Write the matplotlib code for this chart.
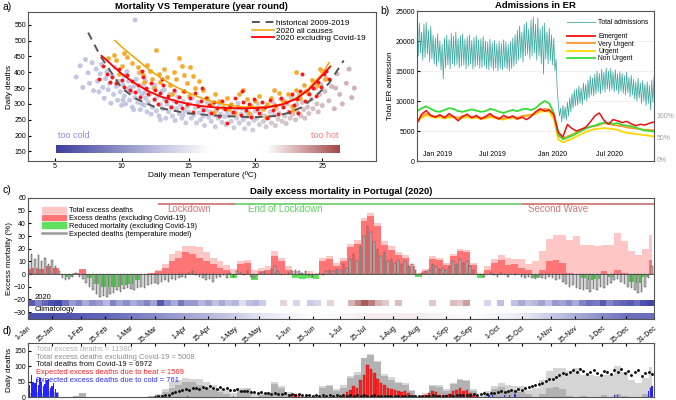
import matplotlib.pyplot as plt
import matplotlib.transforms as mtransforms
import numpy as np
import pandas as pd
from matplotlib.colors import LinearSegmentedColormap
from matplotlib.lines import Line2D
from matplotlib.patches import Patch

plt.rcParams['font.family'] = ['Liberation Sans', 'DejaVu Sans']
plt.rcParams['xtick.direction'] = 'in'
plt.rcParams['ytick.direction'] = 'in'
plt.rcParams['axes.edgecolor'] = '#555555'
plt.rcParams['axes.linewidth'] = 0.8
plt.rcParams['xtick.major.size'] = 2.2
plt.rcParams['ytick.major.size'] = 2.2
plt.rcParams['xtick.labelsize'] = 5
plt.rcParams['ytick.labelsize'] = 5

# ---------------- panel a: mortality vs temperature ----------------
hist_pts = [
    (6.6, 385), (6.9, 420), (7.1, 352), (7.3, 440), (7.5, 398), (7.6, 365), (7.8, 430), (7.9, 342),
    (8.1, 410), (8.2, 372), (8.3, 338), (8.4, 395), (8.5, 425), (8.6, 352), (8.7, 318), (8.8, 380),
    (8.9, 402), (9.0, 345), (9.1, 365), (9.2, 302), (9.3, 388), (9.4, 330), (9.5, 415), (9.6, 355),
    (9.7, 312), (9.8, 372), (9.9, 338), (10.0, 296),
    (10.1, 360), (10.2, 325), (10.2, 388), (10.3, 300), (10.4, 345), (10.5, 372), (10.6, 312),
    (10.7, 338), (10.8, 290), (10.9, 355), (11.0, 320), (11.0, 565), (11.1, 378), (11.2, 305),
    (11.3, 342), (11.4, 282), (11.5, 330), (11.6, 360), (11.7, 296), (11.8, 318), (11.9, 345),
    (11.9, 275), (10.4, 402), (10.9, 282), (11.3, 398), (11.7, 335), (10.6, 352), (11.5, 300),
    (10.1, 312), (11.8, 372),
    (12.0, 305), (12.1, 330), (12.2, 268), (12.3, 290), (12.4, 350), (12.5, 312), (12.6, 278),
    (12.7, 325), (12.8, 262), (12.9, 298), (13.0, 340), (13.1, 285), (13.2, 315), (13.3, 255),
    (13.4, 300), (13.5, 275), (13.6, 330), (13.7, 290), (13.8, 262), (13.9, 310), (14.0, 248),
    (14.1, 285), (14.2, 322), (14.3, 270), (14.4, 295), (14.5, 255), (14.6, 308), (14.7, 278),
    (14.8, 240), (14.9, 292), (12.5, 360), (13.2, 345), (14.0, 338), (12.9, 250), (14.6, 265),
    (15.0, 275), (15.1, 300), (15.2, 255), (15.3, 318), (15.4, 265), (15.5, 288), (15.6, 240),
    (15.7, 305), (15.8, 272), (15.9, 250), (16.0, 290), (16.1, 262), (16.2, 232), (16.3, 282),
    (16.4, 305), (16.5, 258), (16.6, 275), (16.7, 245), (16.8, 295), (16.9, 265), (17.0, 228),
    (17.1, 280), (17.2, 255), (17.3, 300), (17.4, 268), (17.5, 242), (17.6, 285), (17.7, 260),
    (17.8, 235), (17.9, 275),
    (18.0, 262), (18.1, 292), (18.2, 245), (18.3, 270), (18.4, 225), (18.5, 280), (18.6, 255),
    (18.7, 302), (18.8, 240), (18.9, 268), (19.0, 285), (19.1, 250), (19.2, 222), (19.3, 275),
    (19.4, 260), (19.5, 238), (19.6, 290), (19.7, 265), (19.8, 218), (19.9, 248), (20.0, 278),
    (20.1, 255), (20.2, 300), (20.3, 235), (20.4, 268), (20.5, 285), (20.6, 245), (20.7, 262),
    (20.8, 228), (20.9, 295),
    (21.0, 258), (21.1, 275), (21.2, 240), (21.3, 305), (21.4, 265), (21.5, 232), (21.6, 285),
    (21.7, 252), (21.8, 270), (21.9, 315), (22.0, 245), (22.1, 290), (22.2, 262), (22.3, 238),
    (22.4, 300), (22.5, 275), (22.6, 255), (22.7, 320), (22.8, 268), (22.9, 285),
    (23.0, 250), (23.1, 298), (23.2, 272), (23.3, 330), (23.4, 262), (23.5, 305), (23.6, 282),
    (23.7, 255), (23.8, 340), (23.9, 290), (24.0, 270), (24.2, 315), (24.3, 285), (24.5, 350),
    (24.6, 300), (24.7, 275), (24.8, 330), (24.9, 360),
    (25.0, 295), (25.2, 340), (25.3, 380), (25.5, 310), (25.7, 355), (25.9, 285), (26.1, 395),
    (26.3, 330), (26.5, 300), (26.8, 365), (27.0, 410), (27.2, 320), (27.4, 350), (26.0, 350),
]
all_pts = [
    (9.0, 445), (9.4, 455), (9.6, 440), (10.2, 460), (10.4, 448), (10.8, 430), (10.0, 420), (9.8, 395),
    (11.2, 415), (11.4, 400), (11.6, 390), (11.9, 422), (12.1, 405), (12.3, 380), (12.6, 470),
    (12.8, 395), (12.9, 370), (12.4, 350), (11.7, 370),
    (13.2, 410), (13.4, 385), (13.6, 360), (13.9, 400), (14.1, 380), (14.3, 445), (14.5, 420),
    (14.7, 392), (14.9, 365), (15.1, 415), (15.3, 388), (15.5, 350), (15.8, 372), (13.8, 330),
    (14.6, 340), (15.0, 325),
    (16.1, 345), (16.4, 320), (16.7, 300), (17.0, 330), (17.3, 310), (17.6, 290), (17.9, 318),
    (18.2, 300), (18.5, 270), (18.8, 330), (16.9, 275), (18.0, 285),
    (19.1, 345), (19.4, 315), (19.7, 295), (20.0, 310), (20.3, 325), (20.6, 285), (20.9, 300),
    (21.2, 320), (21.5, 295), (21.8, 335), (19.5, 270), (20.8, 260), (21.4, 345),
    (22.1, 310), (22.4, 330), (22.7, 295), (23.0, 345), (23.3, 320), (23.6, 360), (23.9, 335),
    (24.2, 375), (24.6, 360), (25.0, 405), (25.2, 380), (23.0, 400), (24.8, 410), (22.8, 280),
]
excl_pts = [
    (8.3, 378), (8.6, 420), (8.9, 395), (9.1, 370), (9.3, 385), (9.6, 365), (9.8, 410), (10.0, 375),
    (10.2, 355), (10.4, 390), (10.6, 345), (10.8, 372), (11.0, 338), (11.2, 360), (11.4, 322),
    (11.6, 385), (11.8, 350), (12.0, 330), (12.2, 365), (12.4, 315), (12.5, 345), (12.7, 300),
    (12.9, 335), (13.1, 360), (13.3, 310), (13.5, 325), (13.7, 290), (13.9, 345), (14.1, 305),
    (14.3, 322), (14.5, 288), (14.7, 340), (14.9, 300), (15.1, 318), (15.3, 275), (15.5, 335),
    (15.7, 295), (15.9, 310), (16.1, 280), (16.3, 320), (16.5, 298), (16.7, 270), (16.9, 305),
    (17.1, 288), (17.3, 262), (17.5, 310), (17.7, 285), (17.9, 240), (18.1, 295), (18.3, 275),
    (18.5, 320), (18.7, 290), (18.9, 265), (19.1, 305), (19.3, 280), (19.5, 300), (19.7, 258),
    (19.9, 315), (20.1, 285), (20.3, 270), (20.5, 305), (20.7, 290), (20.9, 255), (21.1, 312),
    (21.3, 280), (21.5, 298), (21.7, 268), (21.9, 320), (22.1, 290), (22.3, 305), (22.5, 275),
    (22.7, 330), (22.9, 298), (23.1, 315), (23.3, 340), (23.5, 395), (23.7, 310), (24.0, 330),
    (24.3, 350), (24.5, 325), (24.7, 370), (24.9, 355), (25.1, 395), (25.3, 405), (25.5, 380),
    (23.2, 270), (19.0, 340), (16.0, 350), (13.0, 380), (11.5, 405),
]
hist_fit_t = [7.5, 8.4, 10, 11, 12.5, 15, 17.5, 20, 21.5, 22.5, 23.5, 24.5, 25.5, 26.6]
hist_fit_d = [525, 452, 350, 318, 290, 270, 262, 258, 262, 272, 290, 325, 365, 437]
all_fit_t = [9.5, 10, 11, 12, 13, 14, 15, 16, 17, 18, 19, 20, 21, 22, 23, 24, 25, 25.5]
all_fit_d = [500, 480, 445, 410, 380, 355, 335, 318, 305, 296, 291, 290, 292, 300, 318, 350, 395, 430]
excl_fit_t = [8.5, 10, 11, 12, 13, 14, 15, 16, 17, 18, 19, 20, 21, 22, 23, 24, 25, 25.6]
excl_fit_d = [452, 395, 365, 340, 322, 310, 300, 293, 289, 287, 286, 287, 290, 298, 315, 345, 390, 418]

# ---------------- panel b: ER admissions (weekly high / low) ----------------
er_high = [22000, 23000, 21500, 22800, 23100, 21800, 22500, 21000, 20500, 21200,
           20000, 19500, 20500, 21000, 20200, 21300, 20800, 21500, 20400, 20900,
           21200, 20300, 20700, 21000, 20100, 20600, 20900, 20200, 20400, 20800,
           20000, 19800, 20300, 19700, 20100, 19500, 19900, 19600, 20200, 19800,
           19400, 19900, 20500, 21000, 21800, 22500, 21500, 22800, 23200, 22000,
           23500, 24000, 22800, 23800, 22000, 22500, 23000, 21500, 22200, 21000,
           20500, 17000, 9500, 8800, 9300, 9000, 9800, 10500, 11200, 11800,
           12000, 12500, 12200, 13000, 12800, 13500, 14200, 13800, 14500, 15000,
           14600, 15300, 14800, 15500, 15000, 15400, 14800, 15200, 14500, 14900,
           14600, 14200, 14800, 13900, 14300, 13600, 13200, 13800, 13000, 13400,
           12800, 13200, 12600, 13500, 14000]
er_low = [17500, 18000, 16800, 17200, 17800, 16500, 17000, 16200, 15800, 16500,
          15200, 13700, 15500, 16000, 15400, 16200, 15800, 16100, 15500, 15900,
          16000, 15400, 15800, 16200, 15300, 15700, 16000, 15500, 15600, 15900,
          15400, 15200, 15600, 15100, 15500, 15000, 15400, 15200, 15600, 15300,
          15000, 15400, 15800, 16200, 16800, 17200, 16500, 17500, 17800, 17000,
          17500, 18000, 16800, 17500, 16200, 14500, 17000, 16200, 16800, 16000,
          15000, 12000, 7500, 6500, 7000, 6800, 7500, 8200, 8800, 9200,
          9300, 9600, 9400, 10200, 10000, 10500, 11000, 10800, 11200, 11500,
          11200, 11800, 11500, 12000, 11600, 11900, 11500, 11800, 11200, 11600,
          11300, 11000, 11400, 10700, 11000, 10300, 10000, 10500, 9600, 10000,
          9200, 9600, 8500, 9800, 10500]
emergent = [6300, 7800, 8400, 7600, 7300, 7700, 7200, 7900, 7400, 6700,
            7400, 7800, 7200, 7600, 7000, 7400, 7900, 7300, 7000, 7600,
            7200, 7500, 7000, 7300, 6900, 7400, 8200, 8700, 8300, 8500,
            7800, 4800, 4000, 6100, 5400, 5000, 5300, 5600, 6500, 7500,
            8000, 6800, 6100, 6900, 6700, 6400, 6600, 6200, 5900, 6100,
            6000, 6300, 6500]
very_urgent = [6700, 7500, 7900, 7600, 7400, 7600, 7300, 7500, 7400, 7200,
               7500, 7600, 7300, 7400, 7200, 7300, 7500, 7400, 7200, 7100,
               7300, 7400, 7200, 7500, 7600, 7700, 8000, 8500, 8700, 8600,
               7500, 4200, 3800, 4100, 4400, 4800, 5200, 5500, 5700, 5800,
               6000, 6300, 6200, 6000, 5900, 5800, 5600, 5500, 5400, 5300,
               5200, 5200, 5100]
urgent = [6500, 7200, 7600, 7400, 7200, 7300, 7100, 7200, 7300, 7100,
          7200, 7300, 7100, 7200, 7000, 7100, 7300, 7200, 7000, 6900,
          7100, 7200, 7000, 7300, 7500, 7600, 7800, 8200, 8300, 8200,
          7000, 3600, 3100, 3400, 3700, 4100, 4500, 4800, 5100, 5300,
          5400, 5500, 5400, 5300, 5200, 4900, 4700, 4600, 4500, 4400,
          4300, 4200, 4100]
non_urgent = [8300, 8800, 9100, 8700, 8300, 8200, 8500, 8800, 8700, 8300,
              8200, 8400, 8600, 8400, 8200, 8300, 8700, 8500, 8200, 8000,
              8300, 8500, 8300, 8600, 8700, 8500, 8800, 9500, 10000, 9600,
              8000, 4500, 3600, 3900, 4200, 4600, 5000, 5400, 5700, 5900,
              6200, 6400, 6300, 6200, 6300, 6000, 5900, 5800, 5600, 5300,
              5100, 5000, 4900]
b_tick_labels = ['Jan 2019', 'Jul 2019', 'Jan 2020', 'Jul 2020']

# ---------------- panel c: excess mortality (%) every 4 days ----------------
excess_excl = [4, 5, 4, 6, 5, -1, -2, 1, 4, -3,
               -8, -10, -10, -10, -9, -8, -5, 0, 1, 2,
               5, 10, 13, 17, 16, 13, 10, 8, 5, 3,
               -3, 8, 9, -5, 2, 3, 14, 10, 3, -3,
               -4, -3, -4, 10, 12, 6, 10, 21, 24, 42,
               46, 38, 23, 19, 15, 13, 6, -2, 2, 12,
               11, 7, 14, 18, 17, 7, -3, 3, 9, 11,
               7, 8, 5, 3, -3, 3, 10, 11, 9, 1,
               0, -3, -5, -4, 2, -2, 3, 1, -6, -7,
               -2, 11]
excess_total = [4, 5, 4, 6, 5, 0, 0, 1, 4, 0,
                0, 0, 0, 0, 0, 0, 0, 0, 1, 3,
                8, 16, 18, 22, 22, 21, 17, 13, 10, 7,
                4, 10, 11, 3, 5, 6, 18, 13, 6, 2,
                1, 2, 1, 13, 14, 9, 13, 24, 27, 44,
                48, 40, 26, 22, 17, 15, 8, 1, 4, 14,
                13, 9, 16, 20, 19, 9, 1, 6, 12, 15,
                13, 12, 12, 8, 10, 18, 28, 31, 31, 27,
                30, 23, 23, 22, 23, 23, 32, 26, 18, 15,
                20, 31]
# temperature model, every 2 days
model_pct = [8, 16, 12, 15, 10, 13, 8, 11, 6, 2, -3, -5, -4, -2, 1, -2,
             -4, -7, -10, -13, -16, -18, -17, -18, -16, -15, -13, -14, -12, -11,
             -12, -13, -11, -10, -11, -9, -8, -7, -8, -6, -5, -6, -4, -5, -3, -2,
             -3, 1, 2, -1, -2, -3, -5, -4, -6, -3, -2, -1, -3, 1, -2,
             2, 1, -1, 2, -2, -3, -1, 1, 2, 0, 4, 6, 2, -1, 0,
             1, 2, 3, 2, 1, 2, -1, -2, 0, 1, -1, 2, 3, 2, 4,
             3, 8, 5, 12, 16, 10, 22, 30, 38, 33, 25, 20, 14, 17, 10, 12,
             9, 11, 8, 10, 6, 8, 3, 0, 1, 2, 3, 8, 6, 4, 5,
             3, 6, 10, 8, 12, 9, 10, 6, 3, 0, -1, -2, 0, 1, -1,
             -2, 1, -1, -2, 0, -1, 0, -2, -3, -2, -3, -4, -2, -3, -4, -2,
             -3, -5, -4, -6, -8, -10, -9, -11, -12, -13, -12, -14, -12, -13, -10,
             -11, -9, -7, -5, -4, -6, -8, -10, -11, -13, -15, -14, -10, -3, 6]
# temperature anomaly colour (-1 cold ... +1 hot), every 4 days
temp_2020 = [-0.8, -0.6, -0.75, -0.85, -0.9, -0.7, -0.5, -0.6, -0.4, -0.55,
             -0.5, -0.35, -0.6, -0.45, -0.55, -0.4, -0.5, -0.6, -0.45, -0.8,
             -0.55, -0.4, -0.65, -0.5, -0.5, -0.35, -0.45, -0.3, -0.4, -0.3,
             -0.35, -0.15, -0.3, -0.35, -0.25, 0, 0, 0.2, 0, -0.2,
             0, -0.25, -0.2, 0, 0.2, 0, 0, 0.35, 0.55, 0.75,
             0.6, 0.35, 0.25, 0, 0.3, 0, 0, 0, 0, 0.25,
             0, 0, 0.3, 0.25, 0.45, 0, 0, -0.2, 0, -0.3,
             0, -0.3, -0.4, -0.3, -0.35, -0.45, -0.3, -0.5, -0.45, -0.55,
             -0.4, -0.6, -0.7, -0.65, -0.8, -0.6, -0.7, -0.75, -0.8, -0.7,
             -0.85, -0.9]
temp_clim = [-0.85, -0.75, -0.55, -0.35, -0.12, 0.0, 0.08, 0.08, 0.0, -0.1, -0.4, -0.7]

# ---------------- panel d: daily deaths ----------------
deaths_total = [12, 15, 12, 18, 15, 0, 0, 3, 12, 0,
                0, 0, 0, 0, 0, 0, 0, 0, 3, 9,
                25, 48, 55, 62, 60, 58, 48, 38, 30, 22,
                12, 28, 30, 9, 14, 16, 50, 36, 17, 5,
                3, 5, 3, 36, 40, 25, 38, 70, 80, 128,
                140, 118, 76, 64, 50, 44, 24, 3, 12, 40,
                38, 26, 47, 58, 55, 26, 3, 18, 36, 45,
                39, 36, 36, 24, 30, 55, 85, 95, 95, 84,
                93, 72, 72, 70, 72, 72, 100, 82, 57, 47,
                63, 98]
deaths_excl = [12, 15, 12, 18, 15, 0, 0, 3, 12, 0,
               0, 0, 0, 0, 0, 0, 0, 0, 3, 6,
               15, 30, 39, 50, 48, 39, 30, 24, 15, 9,
               0, 24, 27, 0, 6, 9, 42, 30, 9, 0,
               0, 0, 0, 30, 36, 18, 30, 63, 72, 126,
               138, 114, 69, 57, 45, 39, 18, 0, 6, 36,
               33, 21, 42, 54, 51, 21, 0, 9, 27, 33,
               21, 24, 15, 9, 0, 9, 30, 33, 27, 3,
               0, 3, 0, 0, 6, 0, 9, 3, 0, 0,
               9, 33]
covid_deaths = [1, 2, 3, 6, 8, 12, 16, 20, 22, 26, 24, 28, 30, 27,
                32, 29, 35, 30, 27, 31, 26, 28, 24, 22, 25, 20, 21, 18, 16,
                17, 14, 15, 12, 13, 11, 14, 10, 9, 12, 8, 9, 7, 10, 6,
                5, 7, 4, 6, 3, 5, 4, 6, 3, 5, 4, 7, 3, 5, 4,
                6, 3, 5, 4, 2, 5, 3, 4, 2, 3, 4, 2, 3, 2, 4,
                2, 3, 2, 4, 3, 2, 3, 5, 3, 4, 2, 3, 5, 4, 6,
                5, 7, 6, 8, 9, 7, 10, 12, 11, 14, 13, 16, 18, 17, 20,
                22, 19, 25, 24, 28, 31, 35, 38, 42, 47, 52, 58, 60, 65, 72,
                78, 74, 82, 88, 80, 91, 85, 76, 83, 89, 79, 72, 86, 81, 75,
                88, 82, 90, 77, 85, 73, 80, 87, 70, 78, 82, 74]
heat_days = [154, 156, 158] + list(range(184, 263, 2))
heat_deaths = [6, 10, 5,
               8, 15, 22, 35, 28, 55, 72, 104, 90, 78,
               60, 45, 38, 30, 25, 22, 18, 15, 20, 14,
               8, 3, 0, 2, 5, 12, 20, 15, 8, 5,
               6, 10, 18, 22, 28, 20, 24, 12, 5, 2]
cold_days = [0, 1, 2, 3, 4, 5, 6, 7, 8, 9, 10, 11, 12, 13, 14, 15, 16, 17,
             93, 120, 162, 166, 269, 271, 278, 281, 284, 342, 344, 362, 363, 364]
cold_deaths = [55, 40, 72, 48, 45, 60, 38, 62, 50, 35, 42, 55, 58, 30, 35, 45, 25, 12,
               4, 3, 3, 4, 5, 6, 8, 7, 9, 8, 6, 18, 28, 36]
d_notes = ['Total excess deaths = 11980',
           'Total excess deaths excluding Covid-19 = 5008',
           'Total deaths from Covid-19 = 6972',
           'Expected excess deaths due to heat = 1569',
           'Expected excess deaths due to cold = 761']
d_note_colors = ['#b0b0b0', '#8a8a8a', '#111111', '#ff2020', '#2b2bff']

fig = plt.figure(figsize=(6.76, 4.0), dpi=100)

# ================= a =================
ax_a = fig.add_axes([0.0414, 0.5975, 0.5145, 0.3725])
hx = np.array([p[0] for p in hist_pts]); hy = np.array([p[1] for p in hist_pts])
cloud_cmap = LinearSegmentedColormap.from_list(
    'cloud', [(0, '#b9bcdd'), (0.6, '#c2c3db'), (0.72, '#d0bec6'), (1, '#c9a2a2')])
ax_a.scatter(hx, hy, c=hx, cmap=cloud_cmap, vmin=6, vmax=28, s=13, alpha=0.85,
             linewidths=0, zorder=2)
ax_a.scatter([p[0] for p in all_pts], [p[1] for p in all_pts], s=11, color='#f6a928',
             edgecolors='#f8c66e', linewidths=0.3, zorder=3)
ax_a.scatter([p[0] for p in excl_pts], [p[1] for p in excl_pts], s=8, color='#ff1414',
             linewidths=0, zorder=4)
ax_a.plot(hist_fit_t, hist_fit_d, color='#555555', lw=1.4, dashes=(4, 3), zorder=5)
ax_a.plot(all_fit_t, all_fit_d, color='#f0a400', lw=1.1, zorder=6)
ax_a.plot(excl_fit_t, excl_fit_d, color='#ff0000', lw=1.3, zorder=6)

grad = np.linspace(0, 1, 256).reshape(1, -1)
ax_a.imshow(grad, extent=(5.1, 16.5, 144, 169), aspect='auto', zorder=1,
            cmap=LinearSegmentedColormap.from_list('cold', ['#3c3f9e', '#ffffff']))
ax_a.imshow(grad, extent=(20.8, 26.3, 144, 169), aspect='auto', zorder=1,
            cmap=LinearSegmentedColormap.from_list('hot', ['#ffffff', '#a24848']))
ax_a.text(6.4, 200, 'too cold', color='#8a8ae8', fontsize=6.5, ha='center', va='center')
ax_a.text(25.2, 200, 'too hot', color='#ff7a7a', fontsize=6.5, ha='center', va='center')
ax_a.set_xlim(3, 29)
ax_a.set_ylim(120, 590)
ax_a.set_xticks([5, 10, 15, 20, 25])
ax_a.set_yticks(range(150, 551, 50))
ax_a.set_xlabel('Daily mean Temperature (ºC)', fontsize=6, labelpad=1)
ax_a.set_ylabel('Daily deaths', fontsize=5.8, labelpad=1)
ax_a.tick_params(pad=1.5)
ax_a.set_title('Mortality VS Temperature (year round)', fontsize=6.8, fontweight='bold', pad=2)
ax_a.legend(handles=[Line2D([], [], color='#555555', lw=1.4, dashes=(4, 3)),
                     Line2D([], [], color='#f0a400', lw=1.1),
                     Line2D([], [], color='#ff0000', lw=1.3)],
            labels=['historical 2009-2019', '2020 all causes', '2020 excluding Covid-19'],
            loc='upper right', bbox_to_anchor=(0.985, 0.985), frameon=False, fontsize=5.9,
            handlelength=2.6, labelspacing=0.0, handletextpad=0.3, borderaxespad=0.2)

# ================= b =================
ax_b = fig.add_axes([0.617, 0.5975, 0.3505, 0.375])
wk = np.arange(len(er_high))
xt = np.empty(2 * len(wk)); xt[0::2] = wk; xt[1::2] = wk + 0.5
yt = np.empty(2 * len(wk)); yt[0::2] = er_high; yt[1::2] = er_low
ax_b.plot(xt, yt, color='#3fa9a1', lw=0.55)
wk2 = np.arange(0, 105, 2)
ax_b.plot(wk2, urgent, color='#ffd800', lw=1.3)
ax_b.plot(wk2, very_urgent, color='#ff9a30', lw=1.3)
ax_b.plot(wk2, non_urgent, color='#35dd35', lw=1.3)
ax_b.plot(wk2, emergent, color='#ee1111', lw=1.1)
ax_b.set_xlim(0, 104)
ax_b.set_ylim(0, 25000)
ax_b.set_yticks(range(0, 25001, 5000))
ax_b.grid(axis='y', color='#eeeeee', lw=0.6)
ax_b.set_axisbelow(True)
ax_b.set_xticks([9, 33, 59.4, 84.5])
ax_b.set_xticklabels(b_tick_labels)
ax_b.tick_params(axis='x', length=0, pad=-7)
ax_b.tick_params(axis='y', pad=1.5)
ax_b.set_ylabel('Total ER admission', fontsize=5.8, labelpad=1)
ax_b.set_title('Admissions in ER', fontsize=6.8, fontweight='bold', pad=2)
tr_b = mtransforms.blended_transform_factory(ax_b.transAxes, ax_b.transData)
for lab, val in zip(['100%', '50%', '0%'], [7500, 3750, 0]):
    ax_b.text(1.012, val, lab, transform=tr_b, color='#a0a0a0', fontsize=5, va='center')
leg1 = ax_b.legend(handles=[Line2D([], [], color='#3fa9a1', lw=0.6)], labels=['Total admissions'],
                   loc='upper left', bbox_to_anchor=(0.62, 0.965), frameon=False, fontsize=4.9,
                   handlelength=4.2, handletextpad=0.4, borderaxespad=0)
ax_b.add_artist(leg1)
ax_b.legend(handles=[Line2D([], [], color=c, lw=1.3) for c in ['#ee1111', '#ff9a30', '#ffd800', '#35dd35']],
            labels=['Emergent', 'Very Urgent', 'Urgent', 'Non Urgent'],
            loc='upper left', bbox_to_anchor=(0.62, 0.87), frameon=False, fontsize=4.9,
            handlelength=4.2, handletextpad=0.4, labelspacing=0.05, borderaxespad=0)

# ================= c =================
ax_c = fig.add_axes([0.0414, 0.2025, 0.9256, 0.3025])
d4 = np.arange(0, 365, 4)
d2 = np.arange(0, 365, 2)
exc = np.array(excess_excl, dtype=float)
ax_c.fill_between(d4, 0, excess_total, step='mid', color='#ffc6c6', lw=0)
ax_c.fill_between(d4, 0, np.maximum(exc, 0), step='mid', color='#ff7575', lw=0)
ax_c.fill_between(d4, np.minimum(exc, 0), 0, step='mid', color='#5fe05f', lw=0)
ax_c.bar(d2, model_pct, width=0.9, color='#c0c0c0', edgecolor='#333333', linewidth=0.3)
ax_c.axhline(0, color='#444444', lw=0.6)
band_cmap = LinearSegmentedColormap.from_list('band', ['#2f33a0', '#ffffff', '#8e2a2a'])
ax_c.imshow(np.array(temp_2020).reshape(1, -1), extent=(0, 365, -25.5, -20.8), aspect='auto',
            cmap=band_cmap, vmin=-1, vmax=1, interpolation='nearest')
ax_c.imshow(np.vstack([temp_clim, temp_clim]), extent=(0, 365, -35.5, -30.8), aspect='auto',
            cmap=band_cmap, vmin=-1, vmax=1, interpolation='bilinear', interpolation_stage='data')
ax_c.text(4, -18.3, '2020', fontsize=5.5, va='center')
ax_c.text(4, -28.3, 'Climatology', fontsize=5.5, va='center')
# lockdown periods
ax_c.hlines(55.3, 76, 121, color='#cc6e6e', lw=1.2)
ax_c.hlines(55.3, 121, 288, color='#6ccc6c', lw=1.2)
ax_c.hlines(55.3, 288, 365, color='#cc6e6e', lw=1.2)
ax_c.text(94, 51.3, 'Lockdown', color='#d07474', fontsize=7, ha='center', va='center')
ax_c.text(150, 51.3, 'End of Lockdown', color='#62d062', fontsize=7, ha='center', va='center')
ax_c.text(309, 51.3, 'Second Wave', color='#c97a7a', fontsize=7, ha='center', va='center')
ax_c.set_xlim(0, 365)
ax_c.set_ylim(-35.5, 60)
ax_c.set_yticks(range(-30, 61, 10))
month_starts = pd.date_range('2020-01-01', periods=12, freq='MS')
tick_dates = sorted(list(month_starts) + list(month_starts + pd.Timedelta(days=14)))
tick_pos = [(t - pd.Timestamp('2020-01-01')).days for t in tick_dates] + [365]
tick_lab = [f'{t.day}-{t.strftime("%b")}' for t in tick_dates] + ['31-Dec']
ax_c.set_xticks(tick_pos)
ax_c.set_xticklabels(tick_lab, rotation=40, ha='right', rotation_mode='anchor', fontsize=5)
ax_c.tick_params(axis='x', pad=4)
ax_c.tick_params(axis='y', pad=1.5)
ax_c.set_ylabel('Excess mortality (%)', fontsize=5.8, labelpad=1)
ax_c.set_title('Daily excess mortality in Portugal (2020)', fontsize=6.8, fontweight='bold', pad=3)
ax_c.legend(handles=[Patch(color='#ffc6c6'), Patch(color='#ff7575'), Patch(color='#5fe05f'),
                     Line2D([], [], color='#9a9a9a', lw=1.8)],
            labels=['Total excess deaths', 'Excess deaths (excluding Covid-19)',
                    'Reduced mortality (excluding Covid-19)', 'Expected deaths (temperature model)'],
            loc='upper left', bbox_to_anchor=(0.018, 0.95), frameon=False, fontsize=5.3,
            handlelength=3.2, handleheight=0.8, labelspacing=0.05, handletextpad=0.4, borderaxespad=0)

# ================= d =================
ax_d = fig.add_axes([0.0414, 0.0075, 0.9256, 0.135])
ax_d.fill_between(d4, 0, deaths_total, step='mid', color='#d5d5d5', lw=0)
ax_d.fill_between(d4, 0, deaths_excl, step='mid', color='#b2b2b2', lw=0)
ax_d.bar(heat_days, heat_deaths, width=1.5, color='#ff2222', edgecolor='#b00000', linewidth=0.2)
ax_d.bar(cold_days, cold_deaths, width=0.8, color='#2424ff', linewidth=0)
ax_d.plot(np.arange(74, 365, 2), covid_deaths, ls='none', marker='o', ms=1.1, color='#111111')
ax_d.set_xlim(0, 365)
ax_d.set_ylim(0, 176)
ax_d.set_yticks([0, 50, 100, 150])
ax_d.set_xticks(tick_pos)
ax_d.set_xticklabels([])
ax_d.tick_params(axis='x', top=True, bottom=False)
ax_d.tick_params(axis='y', pad=1.5)
ax_d.set_ylabel('Daily deaths', fontsize=5.8, labelpad=1)
for i, (txt, col) in enumerate(zip(d_notes, d_note_colors)):
    ax_d.text(4.5, 155 - 25 * i, txt, color=col, fontsize=5.4, va='center')

# panel letters
fig.text(0.004, 0.995, 'a)', fontsize=7.5, va='top')
fig.text(0.563, 0.985, 'b)', fontsize=7.5, va='top')
fig.text(0.004, 0.537, 'c)', fontsize=7.5, va='top')
fig.text(0.004, 0.185, 'd)', fontsize=7.5, va='top')

fig.savefig('out.png', dpi=100)
